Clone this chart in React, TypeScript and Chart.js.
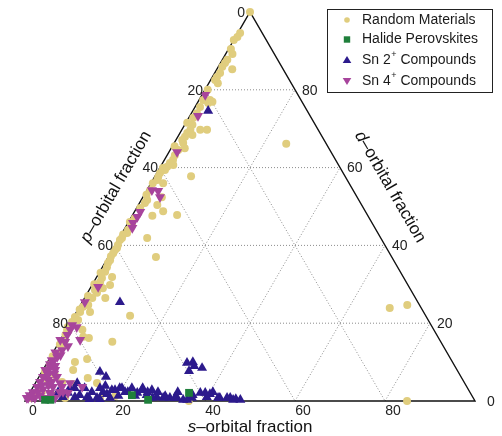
import React, { useEffect, useRef } from 'react';
import { Chart, registerables } from 'chart.js';
Chart.register(...registerables);

const W = 502;
const H = 436;
const FONT = '"Liberation Sans", Arial, Helvetica, sans-serif';

const seriesLabels = ['Random Materials', 'Halide Perovskites', 'Sn 2+ Compounds', 'Sn 4+ Compounds'];
const seriesColors = ['#e0cd7e', '#1f7f3b', '#2c1a8c', '#a7449c'];
const tickValues = [0, 20, 40, 60, 80];
const gridValues = [20, 40, 60, 80];
const axisTitles = ['s', 'p', 'd'];

// Each point: [s-orbital %, d-orbital %]; p-orbital % = 100 - s - d
const randomMaterials: number[][] = [
  [0, 100], [0.5, 94.6], [0.4, 93.6], [0, 92.8], [1.1, 87.7], [1.0, 86.9], [3.4, 85.3], [0.9, 85.9],
  [1.2, 84.3], [1.0, 83.3], [1.0, 82.5], [2.0, 81.7], [2.4, 77.4], [2.4, 76.6], [3.2, 76.9], [0.9, 77.4],
  [1.1, 75.6], [1.2, 74.0], [1.0, 72.8], [1.7, 71.0], [1.9, 69.7], [4.1, 69.7], [5.6, 69.7], [1.6, 68.9],
  [1.6, 67.9], [3.0, 68.4], [1.4, 67.1], [2.0, 66.3], [1.7, 63.2], [1.9, 62.0], [1.6, 61.2], [1.5, 60.2],
  [0.7, 59.9], [2.6, 60.7], [8.0, 57.8], [0.7, 58.6], [0.8, 57.6], [1.0, 56.8], [2.7, 56.0], [4.2, 52.4],
  [1.3, 51.7], [1.2, 50.9], [4.2, 50.4], [6.3, 48.8], [9.9, 47.8], [4.5, 47.6], [0.9, 44.0], [1.1, 43.2],
  [6.2, 41.9], [0.4, 41.4], [0.6, 40.1], [0.8, 39.3], [10.6, 37.0], [0.6, 38.0], [0.8, 36.2], [0.7, 35.5],
  [1.0, 34.4], [3.4, 31.9], [2.8, 29.0], [2.1, 27.8], [4.6, 26.5], [1.7, 24.7], [0.8, 24.2], [0.8, 22.9],
  [3.0, 22.9], [12.4, 21.9], [0.3, 21.6], [0.3, 20.3], [0, 19.0], [0.2, 18.3], [3.6, 18.3], [4.7, 16.5],
  [6.1, 16.2], [11.8, 15.2], [1.0, 15.7], [1.3, 13.9], [1.6, 12.3], [8.4, 10.8], [6.1, 10.0], [6.7, 8.0],
  [11.0, 5.9], [25.0, 66.1], [69.1, 23.9], [72.6, 24.7], [84.9, 0], [0.7, 0.8], [1.4, 1.5], [2.6, 2.3],
  [5.9, 1.5], [8.5, 0.8], [16.3, 0.8], [19.4, 1.3], [2.4, 5.4], [1.7, 3.3], [3.3, 6.7], [5.8, 4.9],
  [8.3, 4.4], [0.9, 9.3], [0.7, 7.5], [13.7, 4.6], [1.8, 64.5], [1.4, 59.4], [0.7, 54.2], [0.8, 49.6],
  [0.9, 47.0], [1.2, 45.2], [0.6, 41.9], [0.6, 38.8], [1.2, 33.2], [1.3, 31.6], [1.4, 30.6], [1.3, 28.5],
  [1.7, 26.5], [1.4, 20.8], [4.0, 29.8], [3.0, 65.0], [36.4, 0], [0.5, 90.5], [1.5, 89.2], [0.6, 80.0],
  [0.3, 71.5], [0.5, 65.5], [0.4, 56.0], [0.5, 53.0], [0.3, 46.0], [0.4, 42.8], [0.5, 37.2], [0.3, 33.0],
  [0.4, 30.0], [0.5, 27.0], [0.4, 23.5], [0.5, 17.0], [0.5, 14.5], [0.4, 11.5],
];

const halidePerovskites: number[][] = [
  [35.4, 2.1], [23.0, 1.5], [27.2, 0.3], [4.3, 0.3], [5.5, 0.3],
];

const sn2Compounds: number[][] = [
  [3.4, 74.6], [8.4, 25.4], [12.9, 7.5], [14.9, 6.2], [31.1, 9.8], [32.3, 10.0], [33.1, 9.0], [32.6, 7.7],
  [35.1, 8.5], [6.2, 2.3], [7.9, 1.0], [8.5, 2.1], [9.4, 3.3], [9.3, 4.6], [11.6, 3.3], [10.6, 1.0],
  [13.3, 1.0], [15.6, 0.8], [16.2, 2.3], [18.5, 0.8], [18.6, 2.8], [19.4, 3.3], [21.1, 2.3], [22.1, 3.3],
  [23.9, 2.1], [24.6, 2.8], [26.3, 1.5], [26.8, 2.8], [28.8, 1.0], [30.3, 0.8], [31.8, 0.8], [33.4, 0.8],
  [35.0, 0.3], [36.7, 0.8], [37.9, 2.1], [39.9, 1.0], [40.6, 2.3], [42.9, 0.8], [44.5, 0.8], [46.1, 0.3],
  [47.7, 0.3], [19.9, 3.3], [21.7, 2.3], [24.5, 3.3], [26.1, 2.3], [28.4, 2.3], [30.5, 1.3], [32.9, 0.8],
  [35.9, 0.3], [36.5, 1.5], [39.0, 2.1], [40.2, 1.8], [42.5, 0.8], [45.2, 0.8], [46.6, 0.5], [11.4, 1.5],
  [13.7, 2.3], [15.0, 3.3], [17.3, 1.8], [17.9, 2.8], [20.1, 1.3], [8.3, 3.3], [14.1, 0.5], [16.4, 0.5],
  [15.9, 3.9], [23.8, 1.3], [28.0, 0.8], [32.8, 2.3],
];

const sn4Compounds: number[][] = [
  [0.7, 78.7], [1.8, 73.3], [1.8, 64.0], [1.1, 54.2], [2.6, 54.0], [3.8, 52.4], [1.3, 48.6], [1.3, 47.3],
  [1.1, 45.8], [1.6, 44.5], [1.6, 29.3], [0.6, 25.4], [2.0, 19.0], [4.4, 15.7], [0.9, 17.0], [1.3, 15.2],
  [2.5, 14.1], [1.7, 13.1], [1.5, 11.3], [0.7, 10.5], [6.4, 3.6], [1.2, 10.0], [1.2, 8.7], [1.2, 7.5],
  [0.9, 6.2], [0.9, 4.9], [0.9, 3.6], [0.6, 2.3], [0.3, 1.5], [0.3, 0.8], [7.7, 4.6], [10.9, 3.6],
  [6.6, 2.3], [4.4, 3.6], [2.4, 5.4], [4.0, 6.2], [0.5, 8.0], [7.3, 2.3], [1.7, 2.3], [1.7, 4.1],
  [1.8, 6.7], [2.7, 8.0], [1.8, 0.8], [4.1, 0.8], [6.3, 0.8], [8.5, 2.1], [0, 0.8], [2.7, 1.3],
  [4.5, 2.1], [5.5, 4.6], [0.7, 19.5], [0.9, 18.3], [0, 15.7], [0.5, 12.5], [2.0, 11.8], [0.8, 9.5],
  [2.2, 9.0], [3.0, 7.0], [3.5, 5.0], [2.5, 3.0], [1.0, 1.0], [5.0, 1.5], [3.2, 4.0],
];

const toPoint = (v: number[]) => ({ x: v[0] + v[1] / 2, y: v[1] });

function drawMarker(ctx: CanvasRenderingContext2D, kind: number, x: number, y: number) {
  ctx.fillStyle = seriesColors[kind];
  ctx.beginPath();
  if (kind === 0) {
    ctx.arc(x, y, 2.8, 0, Math.PI * 2);
  } else if (kind === 1) {
    ctx.rect(x - 3.2, y - 3.2, 6.4, 6.4);
  } else if (kind === 2) {
    ctx.moveTo(x, y - 4);
    ctx.lineTo(x + 4.3, y + 3);
    ctx.lineTo(x - 4.3, y + 3);
    ctx.closePath();
  } else {
    ctx.moveTo(x, y + 4);
    ctx.lineTo(x + 4.3, y - 3);
    ctx.lineTo(x - 4.3, y - 3);
    ctx.closePath();
  }
  ctx.fill();
}

function drawTitle(ctx: CanvasRenderingContext2D, letter: string, cx: number, cy: number, angle: number) {
  const rest = '\u2013orbital fraction';
  ctx.save();
  ctx.translate(cx, cy);
  ctx.rotate(angle);
  ctx.fillStyle = '#111';
  ctx.textBaseline = 'middle';
  ctx.textAlign = 'left';
  ctx.font = `italic 17px ${FONT}`;
  const w1 = ctx.measureText(letter).width;
  ctx.font = `17px ${FONT}`;
  const w2 = ctx.measureText(rest).width;
  const x0 = -(w1 + w2) / 2;
  ctx.font = `italic 17px ${FONT}`;
  ctx.fillText(letter, x0, 0);
  ctx.font = `17px ${FONT}`;
  ctx.fillText(rest, x0 + w1, 0);
  ctx.restore();
}

const ternaryPlugin = {
  id: 'ternary',
  beforeDatasetsDraw(chart: any) {
    const { ctx } = chart;
    const xs = chart.scales.x;
    const ys = chart.scales.y;
    const P = (s: number, d: number) => [xs.getPixelForValue(s + d / 2), ys.getPixelForValue(d)];
    const line = (a: number[], b: number[]) => {
      ctx.beginPath();
      ctx.moveTo(a[0], a[1]);
      ctx.lineTo(b[0], b[1]);
      ctx.stroke();
    };
    ctx.save();
    ctx.strokeStyle = '#8c8c8c';
    ctx.lineWidth = 1;
    ctx.setLineDash([1, 2]);
    for (const v of gridValues) {
      line(P(0, v), P(100 - v, v));
      line(P(0, 100 - v), P(100 - v, 0));
      line(P(v, 0), P(v, 100 - v));
    }
    ctx.setLineDash([]);
    ctx.strokeStyle = '#111';
    ctx.lineWidth = 1.4;
    ctx.beginPath();
    const a = P(0, 0), b = P(100, 0), c = P(0, 100);
    ctx.moveTo(a[0], a[1]);
    ctx.lineTo(b[0], b[1]);
    ctx.lineTo(c[0], c[1]);
    ctx.closePath();
    ctx.stroke();
    ctx.restore();
  },
  afterDatasetsDraw(chart: any) {
    const { ctx } = chart;
    const xs = chart.scales.x;
    const ys = chart.scales.y;
    const P = (s: number, d: number) => [xs.getPixelForValue(s + d / 2), ys.getPixelForValue(d)];
    ctx.save();
    ctx.font = `14px ${FONT}`;
    ctx.fillStyle = '#222';
    ctx.textBaseline = 'middle';
    for (const v of tickValues) {
      const b = P(v, 0);
      ctx.textAlign = 'center';
      ctx.fillText(String(v), b[0] + 8, b[1] + 10);
      const l = P(0, 100 - v);
      ctx.textAlign = 'right';
      ctx.fillText(String(v), l[0] - (v === 0 ? 5 : 2), l[1] + 1);
      const r = P(100 - v, v);
      ctx.textAlign = 'left';
      ctx.fillText(String(v), r[0] + (v === 0 ? 12 : 7), r[1] + 1);
    }
    drawTitle(ctx, axisTitles[0], 250, 427, 0);
    drawTitle(ctx, axisTitles[1], 116, 187, -Math.PI / 3);
    drawTitle(ctx, axisTitles[2], 390, 187, Math.PI / 3);

    // legend
    const bx = 327.5, by = 9.5, bw = 165, bh = 83;
    ctx.fillStyle = '#fff';
    ctx.fillRect(bx, by, bw, bh);
    ctx.strokeStyle = '#222';
    ctx.lineWidth = 1;
    ctx.strokeRect(bx, by, bw, bh);
    const rows = [20, 39.5, 60, 81];
    seriesLabels.forEach((label, i) => {
      const y = rows[i];
      drawMarker(ctx, i, 347, y);
      ctx.fillStyle = '#1a1a1a';
      ctx.textAlign = 'left';
      ctx.textBaseline = 'middle';
      ctx.font = `14px ${FONT}`;
      const m = label.match(/^(.*\d)\+(.*)$/);
      if (m) {
        ctx.fillText(m[1], 362, y);
        const w1 = ctx.measureText(m[1]).width;
        ctx.font = `9px ${FONT}`;
        ctx.fillText('+', 362 + w1 + 0.5, y - 5);
        const w2 = ctx.measureText('+').width;
        ctx.font = `14px ${FONT}`;
        ctx.fillText(m[2], 362 + w1 + w2 + 0.5, y);
      } else {
        ctx.fillText(label, 362, y);
      }
    });
    ctx.restore();
  },
};

export default function App() {
  const ref = useRef<HTMLCanvasElement>(null);
  useEffect(() => {
    const canvas = ref.current;
    if (!canvas) return;
    const base = { borderWidth: 0, clip: false as any };
    const chart = new Chart(canvas, {
      type: 'scatter',
      data: {
        datasets: [
          {
            ...base, label: seriesLabels[0], data: randomMaterials.map(toPoint),
            backgroundColor: seriesColors[0], borderColor: seriesColors[0],
            pointStyle: 'circle', pointRadius: 4, order: 4,
          },
          {
            ...base, label: seriesLabels[1], data: halidePerovskites.map(toPoint),
            backgroundColor: seriesColors[1], borderColor: seriesColors[1],
            pointStyle: 'rect', pointRadius: 5.5, order: 1,
          },
          {
            ...base, label: seriesLabels[2], data: sn2Compounds.map(toPoint),
            backgroundColor: seriesColors[2], borderColor: seriesColors[2],
            pointStyle: 'triangle', pointRadius: 5.8, order: 3,
          },
          {
            ...base, label: seriesLabels[3], data: sn4Compounds.map(toPoint),
            backgroundColor: seriesColors[3], borderColor: seriesColors[3],
            pointStyle: 'triangle', pointRadius: 5.8, pointRotation: 180, order: 2,
          },
        ] as any,
      },
      options: {
        animation: false,
        responsive: false,
        maintainAspectRatio: false,
        layout: { padding: { left: 25, right: 27, top: 12, bottom: 35 } },
        scales: {
          x: { type: 'linear', min: 0, max: 100, display: false },
          y: { type: 'linear', min: 0, max: 100, display: false },
        },
        plugins: { legend: { display: false }, tooltip: { enabled: false } },
        events: [],
      } as any,
      plugins: [ternaryPlugin],
    });
    return () => chart.destroy();
  }, []);
  return (
    <div style={{ position: 'absolute', left: 0, top: 0, width: W, height: H, background: '#fff' }}>
      <canvas ref={ref} width={W} height={H} style={{ display: 'block', width: W, height: H }} />
    </div>
  );
}
